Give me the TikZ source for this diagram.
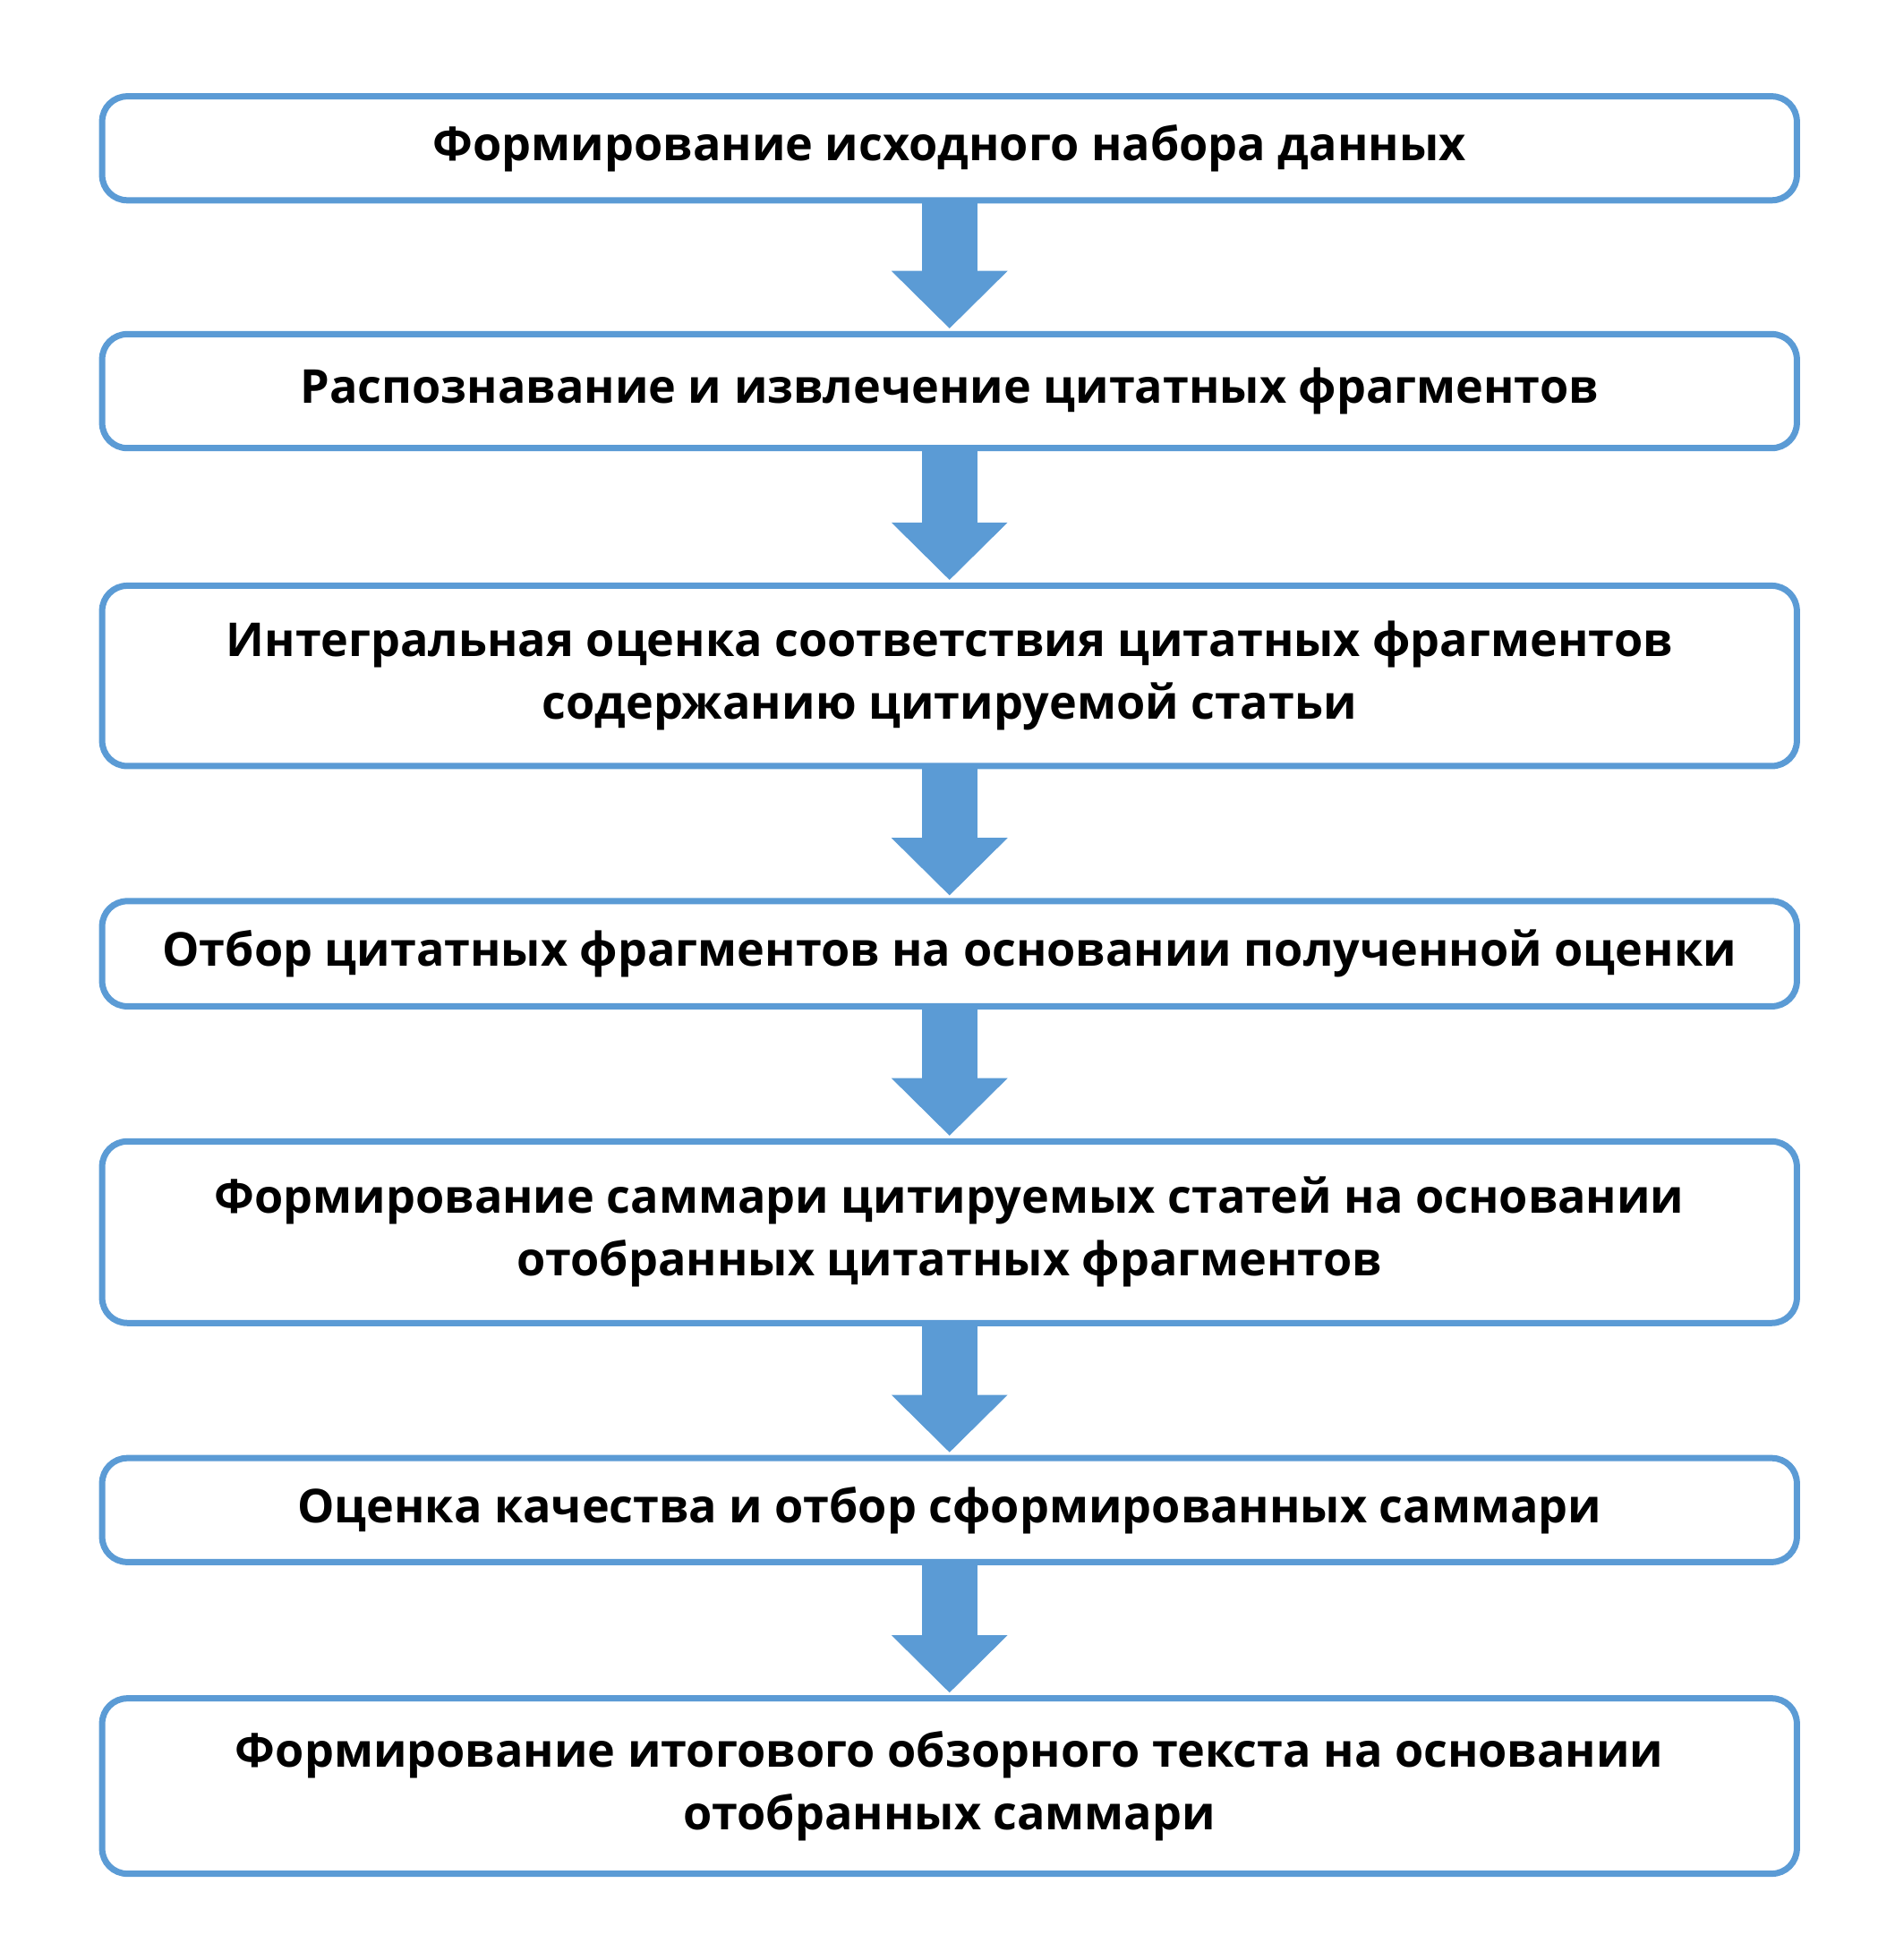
\documentclass[tikz,border=0pt]{standalone}
\usepackage{fontspec}
\setmainfont{Open Sans}
\usetikzlibrary{arrows.meta}
\definecolor{stepBlue}{RGB}{91,155,213}
\tikzset{
  stage/.style = {draw=stepBlue, line width=0.05cm, rounded corners=0.2cm, fill=white,
    minimum width=13.53cm, inner xsep=0pt, align=center,
    font=\bfseries\fontsize{10.6}{14.2}\selectfont, text=black},
  flow/.style = {draw=stepBlue, line width=0.44cm,
    -{Triangle[width=0.9cm, length=0.46cm]}, shorten >=0.02cm}
}
\begin{document}
\begin{tikzpicture}[x=0.01cm, y=-0.01cm]
  \useasboundingbox (0,0) rectangle (1500,1566);
  % stages
  \node[stage, minimum height=0.83cm] (form) at (758.5,118.5) {Формирование исходного набора данных};
  \node[stage, minimum height=0.91cm] (detect) at (758.5,312.5) {Распознавание и извлечение цитатных фрагментов};
  \node[stage, minimum height=1.44cm] (score) at (758.5,540) {Интегральная оценка соответствия цитатных фрагментов\\содержанию цитируемой статьи};
  \node[stage, minimum height=0.84cm] (select) at (758.5,762) {Отбор цитатных фрагментов на основании полученной оценки};
  \node[stage, minimum height=1.45cm] (summ) at (758.5,984.5) {Формирование саммари цитируемых статей на основании\\отобранных цитатных фрагментов};
  \node[stage, minimum height=0.83cm] (quality) at (758.5,1206.5) {Оценка качества и отбор сформированных саммари};
  \node[stage, minimum height=1.40cm] (final) at (758.5,1427) {Формирование итогового обзорного текста на основании\\отобранных саммари};
  % arrows
  \draw[flow] (form.south) -- (detect.north);
  \draw[flow] (detect.south) -- (score.north);
  \draw[flow] (score.south) -- (select.north);
  \draw[flow] (select.south) -- (summ.north);
  \draw[flow] (summ.south) -- (quality.north);
  \draw[flow] (quality.south) -- (final.north);
\end{tikzpicture}
\end{document}
